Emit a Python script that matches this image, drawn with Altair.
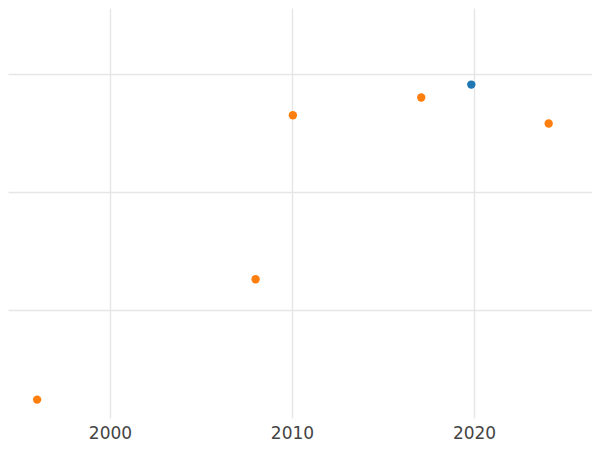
import altair as alt
import pandas as pd

years = [1996.0, 2008.0, 2010.05, 2017.1, 2019.85, 2024.1]
values = [2.4, 12.6, 26.5, 28.0, 29.1, 25.8]
series = ["B", "B", "B", "B", "A", "B"]
series_names = ["A", "B"]
series_colors = ["#1f77b4", "#ff7f0e"]
x_ticks = [2000, 2010, 2020]
y_grid = [10, 20, 30]

df = pd.DataFrame({"year": years, "value": values, "series": series})

chart = alt.Chart(df).mark_circle(size=70, opacity=1).encode(
    x=alt.X("year:Q",
            scale=alt.Scale(domain=[1994.40, 2026.48], nice=False, zero=False),
            axis=alt.Axis(values=x_ticks, format="d", title=None, domain=False,
                          ticks=False, labelFontSize=17, labelColor="#444444",
                          labelPadding=7, gridColor="#e6e6e6", gridWidth=1.4,
                          labelFont="DejaVu Sans")),
    y=alt.Y("value:Q",
            scale=alt.Scale(domain=[0.84, 35.59], nice=False, zero=False),
            axis=alt.Axis(values=y_grid, labels=False, ticks=False, domain=False,
                          title=None, gridColor="#e6e6e6", gridWidth=1.4)),
    color=alt.Color("series:N",
                    scale=alt.Scale(domain=series_names, range=series_colors),
                    legend=None),
).properties(
    width=584,
    height=410,
    autosize=alt.AutoSizeParams(type="none"),
    padding={"left": 0, "top": 0, "right": 0, "bottom": 24},
).configure_view(stroke=None)

chart.save("out.html", embed_options={"renderer": "svg", "actions": False})
